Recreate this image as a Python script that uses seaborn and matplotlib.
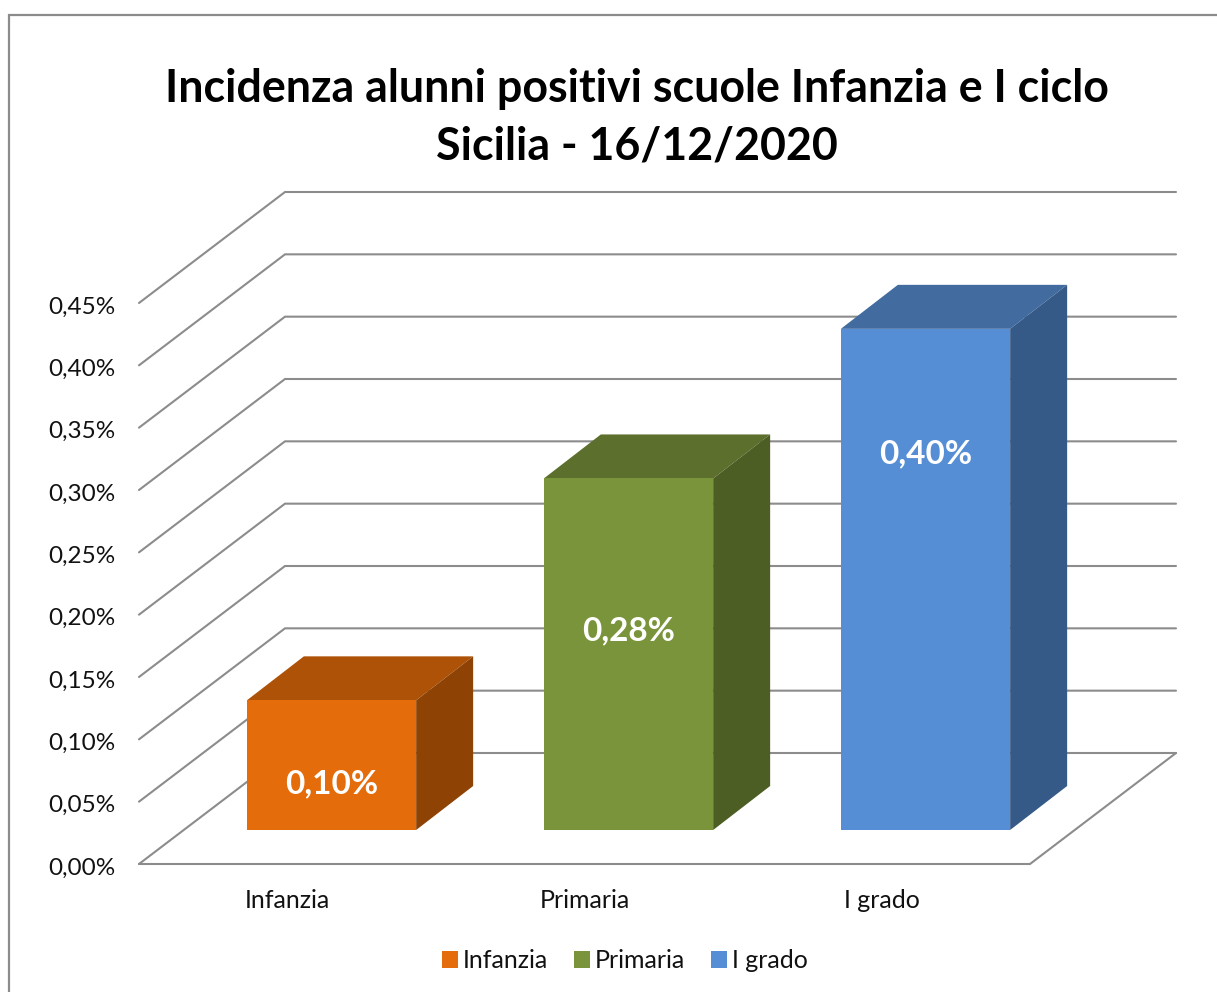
import matplotlib
matplotlib.use('Agg')
import matplotlib.pyplot as plt
import seaborn as sns
from matplotlib.patches import Patch, Polygon, Rectangle
from matplotlib.ticker import FuncFormatter
from matplotlib.transforms import ScaledTranslation, offset_copy

# Data (percent)
categories = ['Infanzia', 'Primaria', 'I grado']
values = [0.104, 0.282, 0.402]
y_ticks = [0.00, 0.05, 0.10, 0.15, 0.20, 0.25, 0.30, 0.35, 0.40, 0.45]
title = 'Incidenza alunni positivi scuole Infanzia e I ciclo\nSicilia - 16/12/2020'

# Front, top and side colours of each bar
front_colors = ['#E46C0A', '#7A943B', '#558ED5']
top_colors = ['#AD5207', '#5C6F2C', '#426CA0']
side_colors = ['#8E4304', '#4D5E25', '#355A88']

W, H = 1217, 992
GRID = '#8C8C8C'
WALL_DX, WALL_DY = 146, 111    # depth of the whole box, px
GAP_DX, GAP_DY = 44, 34        # box front to bar front, px
BAR_DX, BAR_DY = 57, 44        # depth of a bar, px
BAR_WIDTH = 0.57
LABEL_DROP = [83, 152, 125]    # bar top to value label, px

sns.set_theme(style='white')
plt.rcParams['font.family'] = ['Lato', 'DejaVu Sans']

fig = plt.figure(figsize=(W / 100, H / 100), dpi=100)
ax = fig.add_axes([139 / W, 1 - 864 / H, 891 / W, 561 / H])
ax.patch.set_alpha(0)

# Chart frame, cut by the edge of the picture
fig.add_artist(Rectangle((9 / W, -0.05), 1.2, 1.05 - 15 / H, transform=fig.transFigure,
                         fill=False, edgecolor=GRID, linewidth=1.6))

# Front faces
sns.barplot(x=categories, y=values, hue=categories, palette=front_colors, hue_order=categories,
            width=BAR_WIDTH, dodge=False, legend=False, saturation=1, edgecolor='none', linewidth=0, ax=ax)
ax.set_xlim(-0.5, 2.5)
ax.set_ylim(0, 0.45)

# px to data units, once the limits are fixed
px_x = 3 / 891
px_y = 0.45 / 561
bar_shift = offset_copy(ax.transData, fig=fig, x=GAP_DX, y=GAP_DY, units='dots')

# Back wall and side wall grid lines
right = 2.5
for t in y_ticks:
    back_y = t + WALL_DY * px_y
    ax.plot([-0.5, -0.5 + WALL_DX * px_x, right + WALL_DX * px_x], [t, back_y, back_y],
            color=GRID, linewidth=1.5, clip_on=False, zorder=1, solid_joinstyle='miter')

# Floor front and right edges
ax.plot([-0.5, right, right + WALL_DX * px_x], [0, 0, WALL_DY * px_y],
        color=GRID, linewidth=1.5, clip_on=False, zorder=1, solid_joinstyle='miter')

for i, bar in enumerate(ax.patches):
    bar.set_transform(bar_shift)
    bar.set_clip_on(False)
    bar.set_zorder(4)
    x0, x1 = bar.get_x(), bar.get_x() + bar.get_width()
    v = bar.get_height()
    dx, dy = BAR_DX * px_x, BAR_DY * px_y
    ax.add_patch(Polygon([(x0, v), (x1, v), (x1 + dx, v + dy), (x0 + dx, v + dy)],
                         facecolor=top_colors[i], edgecolor='none',
                         transform=bar_shift, clip_on=False, zorder=3))
    ax.add_patch(Polygon([(x1, 0), (x1 + dx, dy), (x1 + dx, v + dy), (x1, v)],
                         facecolor=side_colors[i], edgecolor='none',
                         transform=bar_shift, clip_on=False, zorder=3))
    ax.annotate(f'{values[i]:.2f}%'.replace('.', ','), xy=(i, v), xycoords=bar_shift,
                xytext=(0, -LABEL_DROP[i] * 0.72), textcoords='offset points',
                ha='center', va='center', color='white', fontsize=24, fontweight='bold', zorder=5)

# Axes, ticks
ax.set_yticks(y_ticks)
ax.yaxis.set_major_formatter(FuncFormatter(lambda y, _: f'{y:.2f}%'.replace('.', ',')))
ax.tick_params(axis='both', length=0, labelcolor='#111111')
ax.tick_params(axis='y', pad=17, labelsize=17.5)
ax.tick_params(axis='x', pad=18, labelsize=18)
nudge = ScaledTranslation(0, -2 / 100, fig.dpi_scale_trans)
for label in ax.get_yticklabels():
    label.set_transform(label.get_transform() + nudge)
sns.despine(ax=ax, left=True, bottom=True)
ax.set_xlabel('')
ax.set_ylabel('')

fig.text(637 / W, 1 - 118 / H, title, ha='center', va='center', fontsize=32.2, fontweight='bold',
         color='black', linespacing=1.45)

handles = [Patch(facecolor=c, edgecolor='none', label=n) for c, n in zip(front_colors, categories)]
fig.legend(handles=handles, loc='center', bbox_to_anchor=(625 / W, 1 - 961 / H), ncol=3, frameon=False,
           fontsize=18, handlelength=0.64, handleheight=0.64, handletextpad=0.2, columnspacing=1.04,
           labelcolor='#111111')

fig.savefig('out.png', dpi=100)
